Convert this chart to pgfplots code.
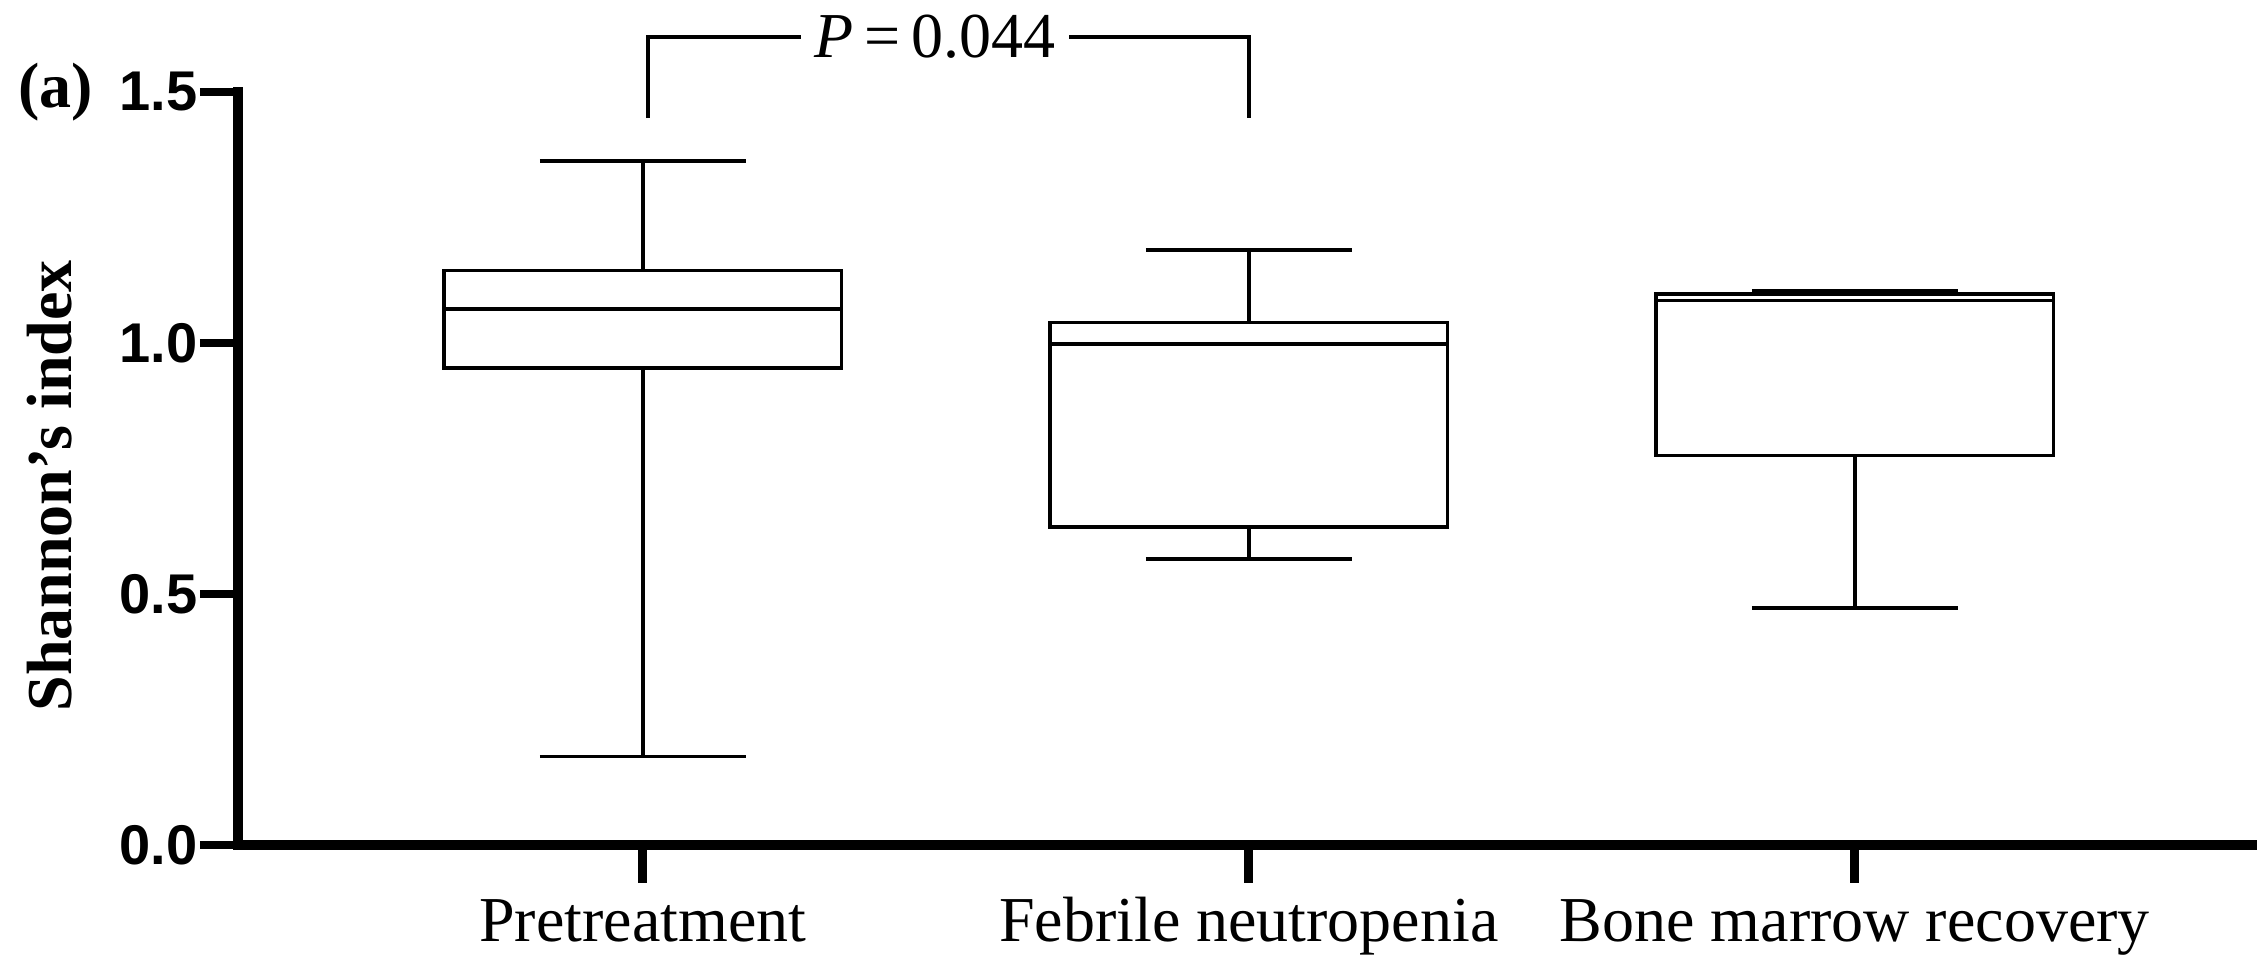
\documentclass[border=0pt]{standalone}
\usepackage{fontspec}
\setmainfont{Liberation Serif}
\setsansfont{Liberation Sans}
\usepackage{pgfplots}
\pgfplotsset{compat=1.18}
\usepgfplotslibrary{statistics}
\begin{document}
\begin{tikzpicture}
\begin{axis}[
  at={(0,0)}, anchor=south west,
  scale only axis, width=503.75pt, height=188.25pt,
  xmin=-0.668, xmax=2.657, ymin=0, ymax=1.5,
  axis x line=bottom, axis y line=left,
  axis line style={line width=2.5pt, -, line cap=rect},
  tick align=outside, major tick length=9.5pt,
  every tick/.style={black, line width=2.2pt},
  xtick={0,1,2},
  xticklabels={Pretreatment, Febrile neutropenia, Bone marrow recovery},
  ytick={0,0.5,1,1.5},
  yticklabel style={font=\sffamily\bfseries\fontsize{14}{16}\selectfont, inner xsep=0.5pt,
    /pgf/number format/.cd, fixed, fixed zerofill, precision=1, assume math mode=true},
  xticklabel style={font=\fontsize{16}{18}\selectfont, text height=11pt, text depth=3.5pt},
  ylabel={Shannon’s index},
  ylabel style={font=\bfseries\fontsize{16}{18}\selectfont, at={(axis description cs:-0.0935,0.477)}, anchor=center},
  clip=false,
  boxplot/draw direction=y,
]
\addplot[black, line width=0.9pt, solid, mark=none, boxplot prepared={draw position=0, lower whisker=0.176, lower quartile=0.950, median=1.068, upper quartile=1.144, upper whisker=1.362, box extend=0.656, whisker extend=0.34}] coordinates {};
\addplot[black, line width=0.9pt, solid, mark=none, boxplot prepared={draw position=1, lower whisker=0.570, lower quartile=0.634, median=0.998, upper quartile=1.041, upper whisker=1.185, box extend=0.656, whisker extend=0.34}] coordinates {};
\addplot[black, line width=0.9pt, solid, mark=none, boxplot prepared={draw position=2, lower whisker=0.472, lower quartile=0.776, median=1.085, upper quartile=1.098, upper whisker=1.104, box extend=0.656, whisker extend=0.34}] coordinates {};
\draw[line width=1pt] (axis cs:0.008,1.448) -- (axis cs:0.008,1.61) -- (axis cs:1,1.61) -- (axis cs:1,1.448);
\node[fill=white, inner xsep=3.5pt, inner ysep=1pt, font=\fontsize{16}{18}\selectfont] at (axis cs:0.482,1.61) {\textit{P}\thinspace=\thinspace0.044};
\node[font=\bfseries\fontsize{16}{18}\selectfont, anchor=center] at ([xshift=-45.5pt]rel axis cs:0,1) {(a)};
\end{axis}
\pgfresetboundingbox
\path (-59.5pt,-28.5pt) rectangle (504.75pt,211.25pt);
\end{tikzpicture}
\end{document}
